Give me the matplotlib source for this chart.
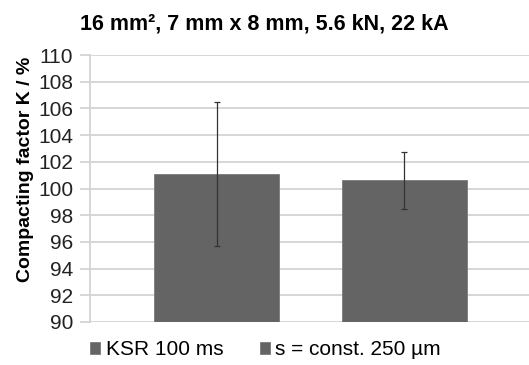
import numpy as np
import matplotlib.pyplot as plt

plt.rcParams['font.family'] = ['Liberation Sans', 'DejaVu Sans']

# Compacting factor, 16 mm² sample
series = ["KSR 100 ms", "s = const. 250 µm"]
values = [101.1, 100.65]
err_low = [5.4, 2.15]
err_high = [5.4, 2.1]
yticks = list(range(90, 111, 2))

fig = plt.figure(figsize=(5.29, 3.65), dpi=100)
ax = fig.add_axes([0.170, 0.118, 0.830, 0.731])

x = np.arange(len(series))
for i, name in enumerate(series):
    ax.bar(x[i], values[i] - 90, bottom=90, width=0.665, color='#646464',
           edgecolor='#7a7a7a', linewidth=0.6, label=name, zorder=2)
ax.errorbar(x, values, yerr=[err_low, err_high], fmt='none', ecolor='#333333',
            elinewidth=0.9, capsize=2.5, capthick=0.9, zorder=3)

ax.set_ylim(90, 110)
ax.set_xlim(-0.675, 1.663)
ax.set_yticks(yticks)
ax.set_xticks([])
ax.yaxis.grid(True, color='#d0d0d0', linewidth=1.2, zorder=0)
ax.set_axisbelow(True)
for s in ['top', 'right', 'bottom']:
    ax.spines[s].set_visible(False)
ax.spines['left'].set_color('#d0d0d0')
ax.spines['left'].set_linewidth(1.2)
ax.tick_params(axis='y', length=7, color='#d0d0d0', width=1.2, labelsize=15,
               labelcolor='#222222', pad=5)

ax.set_ylabel("Compacting factor K / %", fontsize=14, fontweight='bold')
ax.yaxis.set_label_coords(-0.128, 0.573)
fig.suptitle("16 mm², 7 mm x 8 mm, 5.6 kN, 22 kA", fontsize=15.5,
             fontweight='bold', x=0.5, y=0.963)

ax.legend(loc='center left', bbox_to_anchor=(0.0, -0.105), ncol=2, frameon=False,
          fontsize=15, handlelength=0.5, handleheight=0.5, handletextpad=0.25,
          columnspacing=1.75, borderaxespad=0, borderpad=0)

fig.savefig("out.png", dpi=100)
